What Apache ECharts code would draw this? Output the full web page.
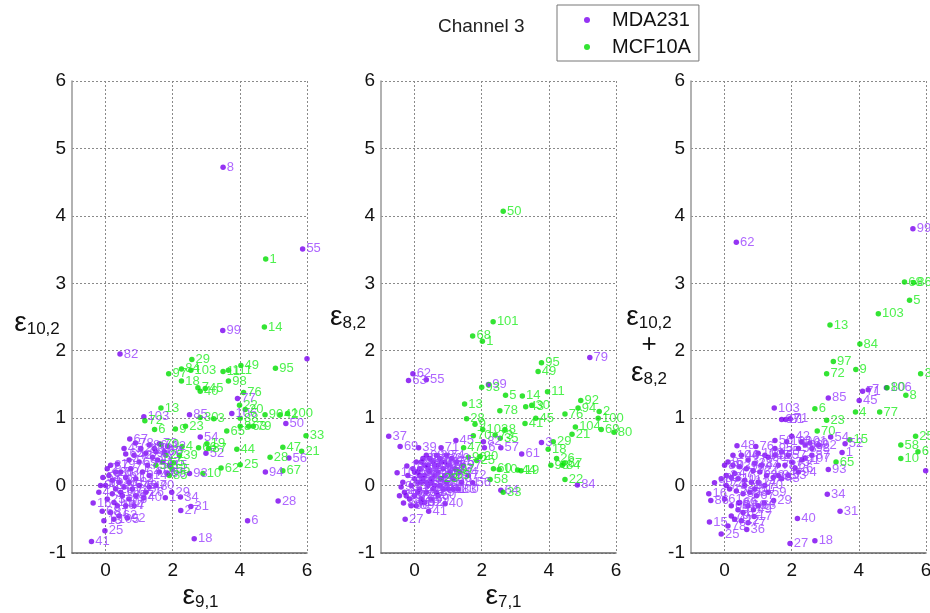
<!DOCTYPE html>
<html lang="en">
<head>
    <meta charset="UTF-8">
    <title>Channel 3</title>
    <script src="https://cdn.jsdelivr.net/npm/echarts@6.0.0/dist/echarts.min.js"></script>
    <style>
        html, body { margin: 0; padding: 0; background: #fff; }
        #main { width: 930px; height: 613px; }
    </style>
</head>
<body>
<div id="main"></div>
<script>
    // tick values shown on the x axes (odd ones stay blank)
    var xTickLabels = [0, 2, 4, 6];
    var groups = ['MDA231', 'MCF10A'];
    var xNames = ['{e|ε}{s|9,1}', '{e|ε}{s|7,1}', ''];
    var yNames = ['{e|ε}{s|10,2}', '{e|ε}{s|8,2}', '{e|ε}{s|10,2}\n{p|+}\n{e|ε}{s|8,2}'];

    // [x, y, cell id]  -- panel 1 : eps9,1 / eps10,2
    var mdaP1 = [
        [3.5,4.72,8],[5.87,3.51,55],[3.49,2.30,99],[6.0,1.88,''],[0.43,1.95,82],[1.14,1.02,103],[2.5,1.05,85],
        [3.76,1.07,106],[3.93,1.29,77],[5.37,0.92,50],[2.82,0.72,54],[2.99,0.48,52],[5.46,0.41,56],[4.76,0.20,94],
        [5.14,-0.23,28],[4.23,-0.52,6],[2.64,-0.79,18],[2.54,-0.31,31],[2.24,-0.37,27],[2.23,-0.17,34],[1.97,-0.10,29],
        [1.78,-0.18,1],[1.14,-0.18,40],[2.5,0.18,93],[-0.42,-0.83,41],[-0.02,-0.67,25],[-0.37,-0.26,16],[0.72,0.69,67],
        [0.89,0.63,78],[0.6,0.47,65],[0.7,0.38,47],[0.15,0.3,87],[0.35,0.32,19],[0.05,0.25,2],[1.3,0.6,86],[1.45,0.55,39],
        [1.6,0.62,73],[1.75,0.5,60],[1.85,0.58,32],[1.2,0.48,89],[1.4,0.42,35],[1.55,0.38,11],[1.7,0.35,17],[1.9,0.3,15],
        [1.25,0.3,75],[1.1,0.2,64],[1.6,0.2,66],[1.85,0.18,96],[1.3,0.15,14],[0.9,0.1,12],[0.6,0.12,91],[0.4,0.05,33],
        [0.2,0.08,59],[0.0,0.0,43],[-0.15,0.0,90],[0.3,-0.05,20],[0.55,-0.02,3],[0.8,-0.05,74],[1.0,0.0,49],[1.3,-0.02,48],
        [1.5,0.0,70],[1.2,-0.1,26],[0.9,-0.15,57],[0.7,-0.2,76],[0.5,-0.15,38],[0.2,-0.12,5],[0.05,-0.2,23],[0.35,-0.3,10],
        [0.6,-0.3,44],[0.85,-0.3,7],[0.15,-0.4,81],[0.4,-0.45,62],[0.65,-0.48,92],[0.25,-0.5,105],[-0.05,-0.52,13],
        [-0.1,-0.38,68],[-0.2,-0.1,4],[0.1,0.15,9],[0.45,0.2,63],[0.75,0.25,71],[1.0,0.35,69],[0.55,0.55,45],[0.3,0.2,36],
        [0.85,0.45,42],[1.05,0.55,21],[-0.08,0.12,58],[0.25,-0.25,100],[0.45,-0.1,102],[0.7,0.05,104],[1.5,0.5,107]
    ];
    var mcfP1 = [
        [4.77,3.36,1],[4.73,2.35,14],[2.57,1.87,29],[2.26,1.73,84],[2.54,1.71,103],[1.88,1.66,97],[2.26,1.55,18],
        [3.5,1.69,11],[3.66,1.71,111],[4.03,1.78,49],[5.06,1.74,95],[3.66,1.55,98],[2.75,1.45,7],[2.97,1.44,45],
        [2.82,1.40,40],[4.11,1.38,76],[3.99,1.19,22],[4.16,1.13,20],[1.65,1.15,13],[1.17,0.96,72],[1.46,0.83,6],
        [2.08,0.84,9],[2.38,0.88,23],[2.82,1.01,30],[3.22,0.99,3],[4.75,1.05,90],[5.2,1.05,42],[5.42,1.07,100],
        [5.97,0.74,33],[5.28,0.57,47],[5.84,0.51,21],[4.9,0.42,28],[5.28,0.22,67],[3.91,0.54,44],[4.01,0.31,25],
        [3.44,0.26,62],[2.9,0.18,10],[3.61,0.81,65],[4.01,1.0,88],[4.01,0.88,8],[4.26,0.88,63],[4.4,0.88,79],
        [3.02,0.62,19],[3.07,0.55,87],[2.28,0.58,4],[2.77,0.56,66],[2.03,0.34,5],[1.98,0.24,55],[1.65,0.61,70],
        [1.8,0.45,27],[1.5,0.3,58],[2.2,0.45,39],[1.9,0.15,85]
    ];

    // panel 2 : eps7,1 / eps8,2
    var mdaP2 = [
        [5.22,1.90,79],[-0.05,1.66,62],[-0.18,1.56,63],[0.35,1.57,55],[2.2,1.5,99],[-0.77,0.73,37],[-0.43,0.58,69],
        [0.12,0.56,39],[0.79,0.56,71],[1.23,0.67,45],[2.08,0.56,6],[2.57,0.56,57],[3.19,0.47,61],[3.78,0.64,3],
        [4.85,0.01,84],[2.57,-0.07,64],[0.91,-0.27,40],[0.42,-0.38,41],[-0.28,-0.5,27],[1.73,0.04,56],[1.6,0.15,72],
        [-0.52,0.19,10],[-0.23,0.29,12],[-0.4,-0.02,93],[-0.33,-0.26,88],[0.2,-0.25,102],[1.0,-0.05,91],[2.05,0.65,82],
        [0.0,0.1,1],[0.1,0.2,2],[0.2,0.05,4],[0.3,0.15,7],[0.4,0.25,9],[0.5,0.1,11],[0.6,0.3,14],[0.7,0.2,15],
        [0.8,0.35,16],[0.9,0.15,17],[1.0,0.3,19],[1.1,0.4,20],[0.15,-0.05,21],[0.35,-0.1,22],[0.55,-0.05,24],
        [0.75,0.0,26],[0.95,0.05,28],[1.15,0.1,30],[-0.1,0.0,31],[-0.2,0.15,32],[0.05,0.35,33],[0.25,0.4,34],
        [0.45,0.4,36],[0.65,0.45,38],[0.85,0.25,42],[1.2,0.25,43],[1.35,0.2,44],[-0.3,-0.1,46],[0.0,-0.15,47],
        [0.2,-0.2,48],[0.5,-0.2,49],[0.7,-0.15,50],[-0.15,-0.2,51],[0.1,0.05,52],[0.3,0.3,53],[0.4,0.0,54],
        [0.6,0.15,58],[0.8,0.1,59],[1.05,0.2,60],[0.25,0.1,65],[0.45,0.2,66],[-0.05,0.25,67],[0.35,0.45,68],
        [0.55,0.35,70],[0.75,0.4,73],[0.95,0.45,74],[1.25,0.35,75],[0.15,0.15,76],[-0.45,-0.15,77],[-0.35,0.05,78],
        [1.4,0.05,81],[1.3,-0.05,83],[0.65,-0.1,85],[0.85,-0.05,86],[-0.25,-0.15,87],[0.05,-0.3,89],[-0.1,-0.3,90],
        [0.3,-0.25,92],[0.15,0.25,94],[0.5,0.05,95],[0.2,0.35,96],[1.45,0.3,97],[0.9,0.35,98],[1.15,-0.05,100],
        [0.6,0.0,101],[0.35,0.05,103],[0.0,0.2,104],[0.1,-0.1,105],[0.4,0.3,106],[0.7,0.3,107]
    ];
    var mcfP2 = [
        [2.64,4.07,50],[2.34,2.43,101],[1.73,2.22,68],[2.02,2.14,1],[3.78,1.82,95],[3.68,1.69,49],[2.0,1.46,93],
        [2.71,1.34,5],[3.21,1.33,14],[3.96,1.39,11],[1.49,1.21,13],[3.31,1.17,43],[3.49,1.19,30],[2.54,1.11,78],
        [1.55,0.99,28],[3.61,1.0,45],[3.29,0.92,41],[1.8,0.91,9],[2.03,0.83,103],[2.69,0.83,8],[4.95,1.26,92],
        [4.87,1.15,94],[4.48,1.06,76],[5.5,1.10,2],[5.47,1.0,100],[4.79,0.87,104],[5.56,0.83,69],[5.94,0.79,80],
        [4.69,0.76,21],[4.13,0.65,29],[3.98,0.54,18],[4.23,0.40,26],[4.45,0.33,67],[4.06,0.30,98],[4.4,0.3,84],
        [4.48,0.09,22],[2.35,0.25,60],[2.52,0.24,10],[3.07,0.23,44],[3.17,0.22,19],[2.25,0.09,58],[2.64,-0.10,33],
        [1.95,0.43,20],[1.85,0.37,25],[1.46,0.56,47],[1.75,0.74,70],[0.76,0.11,23],[1.24,0.24,97],[2.4,0.75,73],
        [2.55,0.7,35],[1.6,0.42,90],[1.1,0.15,65]
    ];

    // panel 3 : eps10,2 + eps8,2
    var mdaP3 = [
        [0.35,3.61,62],[5.61,3.81,99],[1.48,1.15,103],[1.95,0.99,71],[1.7,0.98,97],[1.82,0.98,21],[3.09,1.3,85],
        [4.01,1.26,45],[4.11,1.40,71],[4.28,1.42,7],[4.82,1.45,106],[3.16,0.72,54],[3.59,0.62,52],[3.5,0.49,1],
        [2.4,0.41,107],[3.09,0.24,93],[3.06,-0.13,34],[3.44,-0.38,31],[2.17,-0.49,40],[1.95,-0.86,27],[2.69,-0.82,18],
        [1.46,-0.22,29],[1.18,-0.26,4],[0.86,-0.36,49],[0.88,-0.46,17],[0.66,-0.65,36],[-0.10,-0.72,25],
        [-0.45,-0.54,15],[-0.47,-0.12,16],[-0.41,-0.22,86],[0.0,-0.2,61],[-0.30,0.04,90],[0.37,0.59,48],[0.93,0.58,76],
        [2.0,0.73,42],[2.54,0.63,60],[1.5,0.67,56],[0.40,-0.36,5],[0.42,-0.26,89],[5.99,0.22,''],[2.1,0.26,26],
        [1.6,0.3,73],[1.3,0.42,30],[0.0,0.3,88],[0.1,0.35,8],[0.25,0.3,9],[0.45,0.28,39],[0.65,0.25,19],[0.85,0.22,72],
        [1.05,0.2,64],[1.25,0.15,32],[1.45,0.12,20],[1.7,0.1,43],[1.9,0.15,53],[0.05,0.15,2],[0.2,0.12,3],[0.4,0.1,10],
        [0.6,0.08,11],[0.8,0.05,12],[1.0,0.05,14],[1.2,0.0,70],[0.15,-0.05,13],[0.35,-0.08,23],[0.55,-0.12,33],
        [0.75,-0.1,63],[0.95,-0.15,67],[0.3,-0.5,41],[0.5,-0.52,22],[0.7,-0.55,77],[0.1,-0.6,78],[0.2,-0.45,79],
        [1.2,0.45,105],[1.5,0.45,55],[1.7,0.5,35],[1.9,0.45,57],[2.2,0.55,58],[2.4,0.6,96],[2.6,0.55,98],[2.3,0.38,91],
        [2.0,0.35,75],[1.8,0.3,81],[1.6,0.15,83],[2.2,0.2,94],[0.5,0.45,46],[0.7,0.38,37],[0.9,0.33,38],[1.1,0.3,44],
        [0.3,0.18,47],[0.6,0.0,50],[0.9,-0.05,51],[1.3,-0.1,59],[0.45,-0.25,65],[0.7,-0.3,66],[1.0,-0.3,68],
        [0.2,-0.3,69],[0.05,0.0,74],[-0.1,0.1,80],[0.55,-0.4,82],[2.6,0.45,87],[2.8,0.6,92],[1.5,0.55,95],
        [1.85,0.65,100],[2.3,0.65,101],[1.0,0.48,102],[0.25,0.45,104]
    ];
    var mcfP3 = [
        [5.36,3.02,68],[5.63,3.01,86],[5.51,2.75,5],[4.58,2.55,103],[3.14,2.38,13],[4.03,2.10,84],[3.24,1.84,97],
        [3.91,1.72,9],[3.04,1.66,72],[5.84,1.66,3],[4.84,1.45,80],[5.4,1.34,8],[2.69,1.14,6],[3.9,1.09,4],
        [4.62,1.09,77],[3.04,0.97,23],[2.76,0.81,70],[3.73,0.68,15],[3.32,0.35,65],[5.69,0.73,25],[5.25,0.60,58],
        [5.76,0.50,6],[5.25,0.40,10]
    ];

    var panels = [[mdaP1, mcfP1], [mdaP2, mcfP2], [mdaP3, mcfP3]];
    var gridLefts = [72, 381, 691];
    var yNameGaps = [35, 33, 42];
    var xNamePads = [[0, 0, 0, 22], [0, 0, 0, 10], 0];
    var dotColors = ['#7b00f0', '#00dd00'];
    var labelColors = ['#9a40ff', '#22ee22'];

    var richName = {
        e: { fontSize: 28, lineHeight: 30, color: '#111', fontFamily: 'Liberation Sans' },
        s: { fontSize: 17, lineHeight: 18, color: '#111', verticalAlign: 'bottom', fontFamily: 'Liberation Sans' },
        p: { fontSize: 26, lineHeight: 26, color: '#111', fontFamily: 'Liberation Sans' }
    };

    var grids = [], xAxes = [], yAxes = [], series = [];
    for (var i = 0; i < 3; i++) {
        grids.push({ left: gridLefts[i], top: 81, width: 235, height: 472, outerBoundsMode: 'none', containLabel: false });
        xAxes.push({
            gridIndex: i, type: 'value', min: -1, max: 6, interval: 1,
            name: xNames[i], nameLocation: 'middle', nameGap: 28, nameMoveOverlap: false,
            nameTextStyle: { rich: richName, padding: xNamePads[i] },
            axisLine: { show: true, onZero: false, lineStyle: { color: '#666', width: 1.5 } },
            axisTick: { show: false },
            axisLabel: {
                fontSize: 19, color: '#111', fontFamily: 'Liberation Sans', margin: 8,
                showMaxLabel: true, showMinLabel: true,
                formatter: function (v) { return xTickLabels.indexOf(v) >= 0 ? String(v) : ''; }
            },
            splitLine: { show: true, lineStyle: { color: ['rgba(0,0,0,0)', '#8a8a8a'], type: [2, 2], width: 1 } }
        });
        yAxes.push({
            gridIndex: i, type: 'value', min: -1, max: 6, interval: 1,
            name: yNames[i], nameLocation: 'middle', nameRotate: 0, nameGap: yNameGaps[i], nameMoveOverlap: false,
            nameTextStyle: { rich: richName, align: 'center', padding: i === 2 ? [56, 0, 0, 0] : (i === 0 ? [12, 0, 0, 0] : [0, 0, 0, 0]) },
            axisLine: { show: true, onZero: false, lineStyle: { color: '#999', width: 1.5 } },
            axisTick: { show: false },
            axisLabel: { fontSize: 19, color: '#111', fontFamily: 'Liberation Sans', margin: 6, showMaxLabel: true },
            splitLine: { show: true, lineStyle: { color: '#8a8a8a', type: [2, 2], width: 1 } }
        });
        for (var g = 0; g < 2; g++) {
            series.push({
                name: groups[g], type: 'scatter', xAxisIndex: i, yAxisIndex: i,
                data: panels[i][g], symbolSize: 5.5,
                itemStyle: { color: dotColors[g] },
                label: {
                    show: true, position: 'right', distance: 1,
                    fontSize: 13, fontFamily: 'Liberation Sans', color: labelColors[g],
                    formatter: function (p) { return p.value[2]; }
                },
                emphasis: { disabled: true }
            });
        }
    }

    var myChart = echarts.init(document.getElementById('main'));
    var option = {
        animation: false,
        title: {
            text: 'Channel 3', left: 433, top: 12,
            textStyle: { fontSize: 19, fontWeight: 'normal', color: '#222', fontFamily: 'Liberation Sans' }
        },
        legend: {
            data: groups, orient: 'vertical', left: 557, top: 5,
            padding: [5, 8, 4, 27], itemGap: 7, itemWidth: 6, itemHeight: 6, icon: 'circle',
            borderColor: '#777', borderWidth: 1, backgroundColor: '#fff',
            textStyle: { fontSize: 20, lineHeight: 20, color: '#111', fontFamily: 'Liberation Sans', padding: [0, 0, 0, 17] }
        },
        grid: grids,
        xAxis: xAxes,
        yAxis: yAxes,
        series: series
    };
    myChart.setOption(option);
</script>
</body>
</html>
